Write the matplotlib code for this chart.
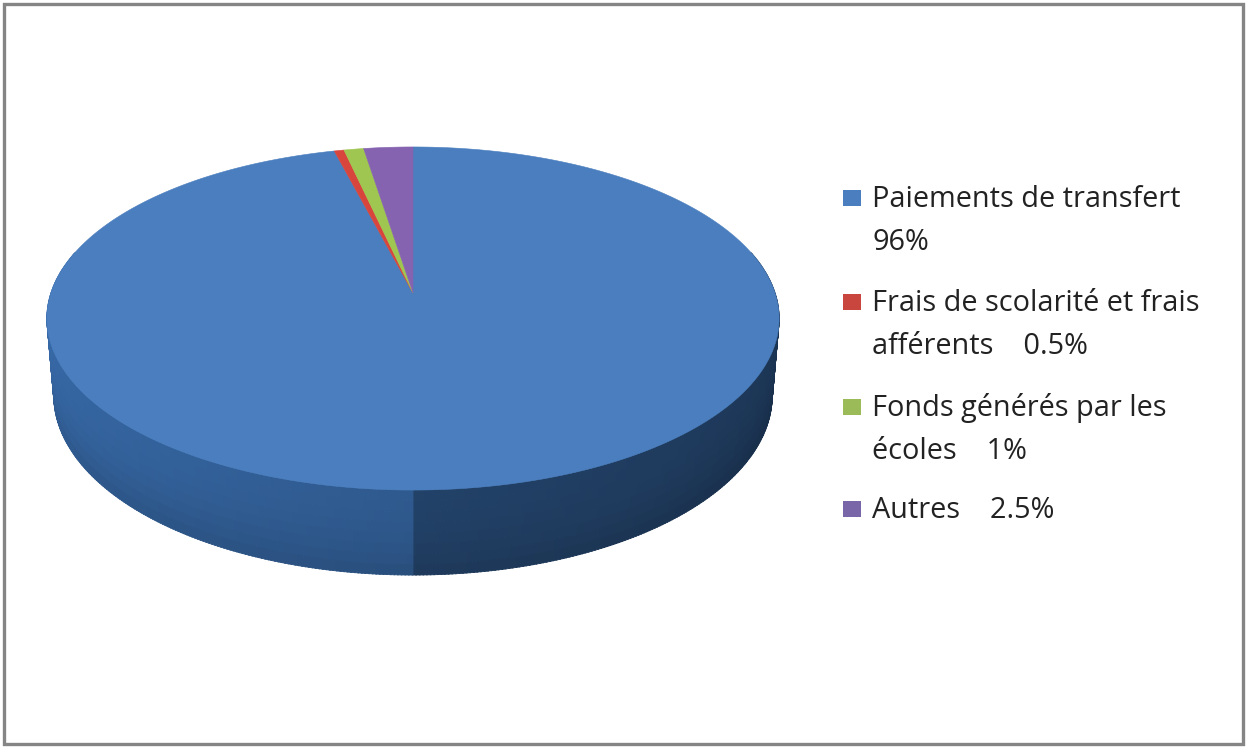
import colorsys
import numpy as np
import matplotlib
matplotlib.use("Agg")
import matplotlib.pyplot as plt
from matplotlib.patches import Polygon, Rectangle
from matplotlib.colors import to_rgb

# --- data -------------------------------------------------------------
categories = [
    "Paiements de transfert",
    "Frais de scolarité et frais afférents",
    "Fonds générés par les écoles",
    "Autres",
]
values = [96, 0.5, 1, 2.5]
label_templates = [
    "Paiements de transfert\n{}",
    "Frais de scolarité et frais\nafférents    {}",
    "Fonds générés par les\nécoles    {}",
    "Autres    {}",
]
colors = ["#4a7ebe", "#d8453c", "#9fc650", "#8663b0"]
legend_colors = ["#4a7ebe", "#c9463f", "#9bbb59", "#7866a8"]

# --- 3-D pie geometry (unit disc, perspective camera) -------------------
W, H = 1247, 748
F, D0, ELEV = 2158.0, 5.96, np.radians(27.6)
THICK = 0.242
CX, CY = 413.0, 293.0
SE, CE = np.sin(ELEV), np.cos(ELEV)


def project(x, y, z):
    d = D0 + y * CE - z * SE
    return CX + F * x / d, CY - F * (y * SE + z * CE) / d


def shade(color, v_scale, s_scale=1.1):
    h, s, v = colorsys.rgb_to_hsv(*to_rgb(color))
    return colorsys.hsv_to_rgb(h, min(1.0, s * s_scale), min(1.0, v * v_scale))


def side_factor(theta):
    # theta in degrees, clockwise from the back of the disc
    t = theta % 360
    if t >= 180:  # left half, lit
        u = (t - 180) / 90.0
        return 0.75 + 0.15 * min(u, 1.0)
    u = (180 - t) / 90.0  # right half, in shadow
    return 0.55 - 0.13 * min(u, 1.0)


fig = plt.figure(figsize=(W / 100, H / 100), dpi=100)
ax = fig.add_axes([0, 0, 1, 1])
ax.set_xlim(0, W)
ax.set_ylim(H, 0)
ax.axis("off")

total = sum(values)
bounds = np.concatenate([[0], np.cumsum(values)]) / total * 360.0

# side wall, drawn back to front
n_steps = 720
thetas = np.linspace(0, 360, n_steps + 1)
quads = []
for i in range(n_steps):
    t0, t1 = thetas[i], thetas[i + 1]
    tm = 0.5 * (t0 + t1)
    if np.cos(np.radians(tm)) > 0.25:
        continue
    k = np.searchsorted(bounds, tm, side="right") - 1
    k = min(max(k, 0), len(values) - 1)
    quads.append((np.cos(np.radians(tm)), t0, t1, tm, k))
quads.sort(key=lambda q: -q[0])

n_bands = 8
zs = np.linspace(0, -THICK, n_bands + 1)
for _, t0, t1, tm, k in quads:
    a0, a1 = np.radians(t0), np.radians(t1 + 0.15)
    base = side_factor(tm)
    for j in range(n_bands):
        za, zb = zs[j], zs[j + 1]
        pts = [project(np.sin(a0), np.cos(a0), za),
               project(np.sin(a1), np.cos(a1), za),
               project(np.sin(a1), np.cos(a1), zb),
               project(np.sin(a0), np.cos(a0), zb)]
        frac = (j + 0.5) / n_bands
        c = shade(colors[k], base * (1.0 - 0.14 * frac ** 2))
        ax.add_patch(Polygon(pts, closed=True, facecolor=c, edgecolor=c,
                             linewidth=0.6, antialiased=True))

# top face wedges
for k in range(len(values)):
    t = np.radians(np.linspace(bounds[k], bounds[k + 1], 400))
    xs, ys = project(np.sin(t), np.cos(t), 0.0)
    cx, cy = project(0.0, 0.0, 0.0)
    pts = np.column_stack([np.concatenate([[cx], xs]), np.concatenate([[cy], ys])])
    ax.add_patch(Polygon(pts, closed=True, facecolor=colors[k],
                         edgecolor=colors[k], linewidth=0.4))

# legend
font = "Open Sans"
fs = 20.8
line_gap = 42.5
entry_y = [207, 311, 416, 518]
for k, (tmpl, v) in enumerate(zip(label_templates, values)):
    text = tmpl.format(f"{v:g}%")
    y0 = entry_y[k]
    ax.add_patch(Rectangle((843, y0 - 17), 18, 16, facecolor=legend_colors[k],
                           edgecolor="none"))
    for j, line in enumerate(text.split("\n")):
        ax.text(872, y0 + j * line_gap, line, fontsize=fs, family=font,
                color="#222222", va="baseline", ha="left")

# outer frame
ax.add_patch(Rectangle((4, 4), W - 8, H - 8, facecolor="none",
                       edgecolor="#858585", linewidth=2.4))

fig.savefig("out.png", dpi=100, facecolor="white")
